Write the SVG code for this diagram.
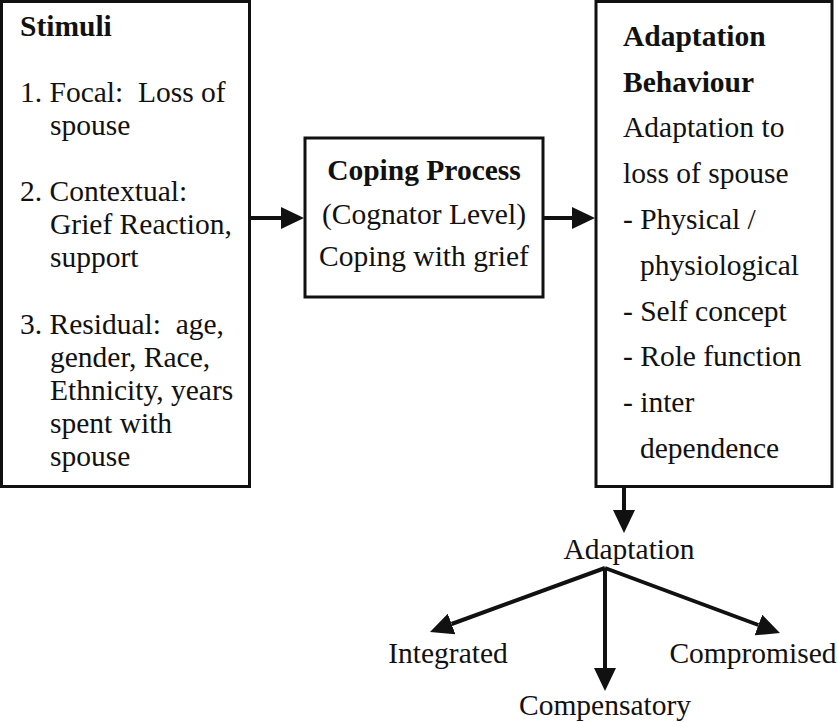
<svg xmlns="http://www.w3.org/2000/svg" width="838" height="722" viewBox="0 0 838 722">
<style>
text{font-family:"Liberation Serif","Times New Roman",serif;font-size:29.5px;fill:#111}
.b{font-weight:bold}
.box{fill:#fff;stroke:#111;stroke-width:3}
.c{stroke:#111;stroke-width:4;fill:none}
</style>
<defs>
<marker id="ah" viewBox="0 0 23 22" refX="0" refY="11" markerWidth="23" markerHeight="22" markerUnits="userSpaceOnUse" orient="auto">
<path d="M0,0 L23,11 L0,22 z" fill="#111"/>
</marker>
</defs>
<rect width="838" height="722" fill="#fff"/>
<g id="stimuli">
<rect class="box" x="1.5" y="1.5" width="248" height="485"/>
<text class="b" x="20" y="36">Stimuli</text>
<text x="20" y="102" xml:space="preserve">1. Focal:  Loss of</text>
<text x="50" y="135">spouse</text>
<text x="20" y="201">2. Contextual:</text>
<text x="50" y="234">Grief Reaction,</text>
<text x="50" y="267">support</text>
<text x="20" y="334" xml:space="preserve">3. Residual:  age,</text>
<text x="50" y="367">gender, Race,</text>
<text x="50" y="400">Ethnicity, years</text>
<text x="50" y="433">spent with</text>
<text x="50" y="466">spouse</text>
</g>
<g id="coping">
<rect class="box" x="305" y="138" width="238" height="159"/>
<text class="b" x="424" y="180" text-anchor="middle">Coping Process</text>
<text x="424" y="224" text-anchor="middle">(Cognator Level)</text>
<text x="424" y="266" text-anchor="middle">Coping with grief</text>
</g>
<g id="behaviour">
<rect class="box" x="596" y="1.5" width="236" height="485"/>
<text class="b" x="623" y="46">Adaptation</text>
<text class="b" x="623" y="92">Behaviour</text>
<text x="623" y="137">Adaptation to</text>
<text x="623" y="183">loss of spouse</text>
<text x="623" y="229">- Physical /</text>
<text x="640" y="275">physiological</text>
<text x="623" y="321">- Self concept</text>
<text x="623" y="366">- Role function</text>
<text x="623" y="412">- inter</text>
<text x="640" y="458">dependence</text>
</g>
<g id="adaptation"><text x="629" y="559" text-anchor="middle">Adaptation</text></g>
<g id="integrated"><text x="448" y="663" text-anchor="middle">Integrated</text></g>
<g id="compensatory"><text x="605" y="715" text-anchor="middle">Compensatory</text></g>
<g id="compromised"><text x="753" y="663" text-anchor="middle">Compromised</text></g>
<g id="connectors">
<line class="c" x1="251" y1="218" x2="281" y2="218" marker-end="url(#ah)"/>
<line class="c" x1="544" y1="218" x2="572" y2="218" marker-end="url(#ah)"/>
<line class="c" x1="624" y1="488" x2="624" y2="510" marker-end="url(#ah)"/>
<line class="c" x1="605" y1="568" x2="451.6" y2="624" marker-end="url(#ah)"/>
<line class="c" x1="605" y1="568" x2="605" y2="668" marker-end="url(#ah)"/>
<line class="c" x1="605" y1="568" x2="758.4" y2="625" marker-end="url(#ah)"/>
</g>
</svg>
